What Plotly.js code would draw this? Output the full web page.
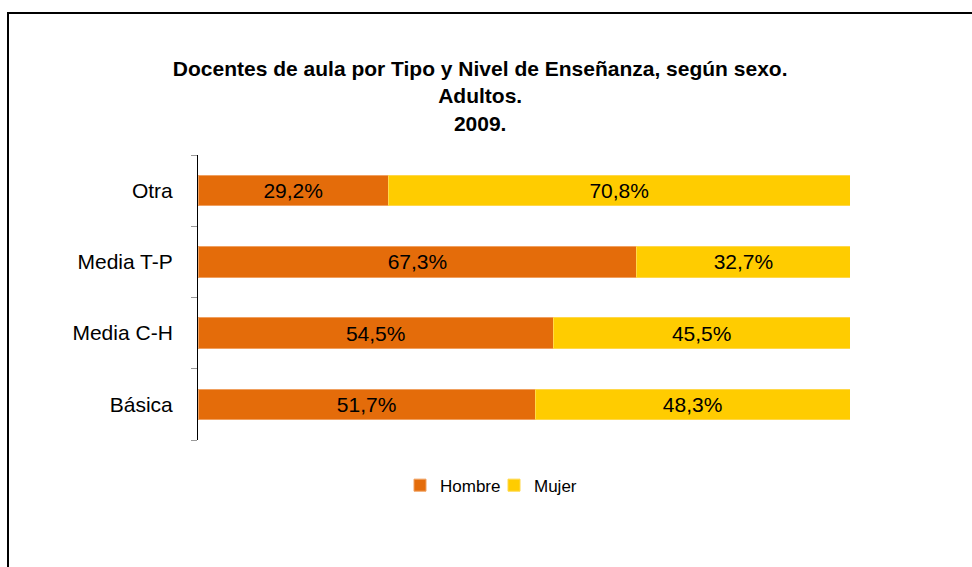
<!DOCTYPE html>
<html>
<head>
<meta charset="utf-8">
<script src="https://cdn.plot.ly/plotly-3.0.1.min.js"></script>
<style>
html,body{margin:0;padding:0;background:#fff;}
#frame{position:absolute;left:7px;top:12px;width:980px;height:600px;border-left:2px solid #000;border-top:2px solid #000;pointer-events:none;}
#chart{position:absolute;left:0;top:0;width:972px;height:567px;}
</style>
</head>
<body>
<div id="chart"></div>
<div id="frame"></div>
<script>
const categories = ['Básica', 'Media C-H', 'Media T-P', 'Otra'];
const hombre = [51.7, 54.5, 67.3, 29.2];
const mujer = [48.3, 45.5, 32.7, 70.8];
const seriesNames = ['Hombre', 'Mujer'];
const titleText = 'Docentes de aula por Tipo y Nivel de Enseñanza, según sexo.<br>Adultos.<br>2009.';

const FONT = 'Liberation Sans, Arial, sans-serif';
const common = {
  type: 'bar', orientation: 'h', y: categories,
  texttemplate: '%{x:.1f}%', textposition: 'inside', insidetextanchor: 'middle',
  textfont: {family: FONT, size: 21, color: '#000'},
  constraintext: 'none',
  hoverinfo: 'skip'
};
const data = [
  Object.assign({}, common, {name: seriesNames[0], x: hombre,
    marker: {color: '#E46C0A', line: {color: '#F0A060', width: 1}}}),
  Object.assign({}, common, {name: seriesNames[1], x: mujer,
    marker: {color: '#FFCC00', line: {color: '#FFD84A', width: 1}}})
];
const layout = {
  width: 972, height: 567,
  margin: {l: 198, r: 122, t: 155, b: 127},
  paper_bgcolor: '#fff', plot_bgcolor: '#fff',
  barmode: 'stack', bargap: 0.57,
  separators: ',.',
  font: {family: FONT, color: '#000'},
  title: {text: titleText, x: 0.494, xanchor: 'center', y: 0.866, yanchor: 'middle',
    font: {family: FONT, size: 21, color: '#000', weight: 'bold'}},
  xaxis: {range: [0, 100], visible: false, fixedrange: true},
  yaxis: {type: 'category', categoryorder: 'array', categoryarray: categories,
    showline: true, linecolor: '#000', linewidth: 1,
    ticks: 'outside', tickson: 'boundaries', ticklen: 6, tickcolor: '#999', tickwidth: 1,
    ticklabelstandoff: 20, showgrid: false, zeroline: false,
    tickfont: {family: FONT, size: 21, color: '#000'}},
  showlegend: true,
  legend: {orientation: 'h', traceorder: 'normal', x: 0.454, xanchor: 'center', y: -0.16, yanchor: 'middle',
    font: {family: FONT, size: 17, color: '#000'},
    itemwidth: 30, entrywidth: 49, entrywidthmode: 'pixels', tracegroupgap: 0}
};
Plotly.newPlot('chart', data, layout, {displayModeBar: false, staticPlot: true});
</script>
</body>
</html>
